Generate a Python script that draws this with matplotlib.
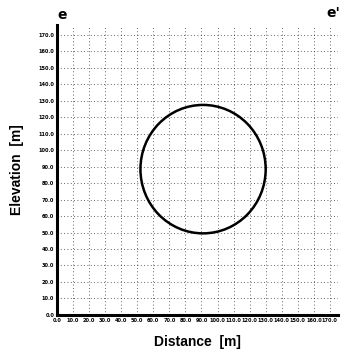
import matplotlib.pyplot as plt
from matplotlib.patches import Circle
import numpy as np

# circle (data units)
center_x = 91.0
center_y = 88.5
radius = 39.0

x_ticks = [0, 10, 20, 30, 40, 50, 60, 70, 80, 90, 100, 110, 120, 130, 140, 150, 160, 170]
y_ticks = [0, 10, 20, 30, 40, 50, 60, 70, 80, 90, 100, 110, 120, 130, 140, 150, 160, 170]


def main():
    fig = plt.figure(figsize=(3.41, 3.53), dpi=100)
    ax = fig.add_axes([0.167, 0.108, 0.824, 0.821])

    ax.add_patch(Circle((center_x, center_y), radius, fill=False,
                        edgecolor='black', linewidth=1.8))
    ax.set_xlim(0, 175)
    ax.set_ylim(0, 176)

    ax.set_xticks(x_ticks)
    ax.set_yticks(y_ticks)
    ax.set_xticklabels([f"{v:.1f}" for v in x_ticks], fontsize=3.6, fontweight='bold')
    ax.set_yticklabels([f"{v:.1f}" for v in y_ticks], fontsize=3.6, fontweight='bold')
    ax.tick_params(length=0, pad=2)

    ax.grid(True, linestyle=(0, (1, 3)), color='black', linewidth=0.6, alpha=0.8)

    for s in ['top', 'right']:
        ax.spines[s].set_visible(False)
    for s in ['left', 'bottom']:
        ax.spines[s].set_linewidth(2.2)

    ax.set_xlabel("Distance  [m]", fontsize=10, fontweight='bold',
                  family='Liberation Sans', labelpad=9)
    ax.set_ylabel("Elevation  [m]", fontsize=10, fontweight='bold',
                  family='Liberation Sans', labelpad=10)

    fig.text(62 / 341, 1 - 15 / 353, "e", fontsize=10, fontweight='bold', ha='center', va='center')
    fig.text(333 / 341, 1 - 13 / 353, "e'", fontsize=10, fontweight='bold', ha='center', va='center')

    fig.savefig("out.png", dpi=100)


if __name__ == "__main__":
    main()
